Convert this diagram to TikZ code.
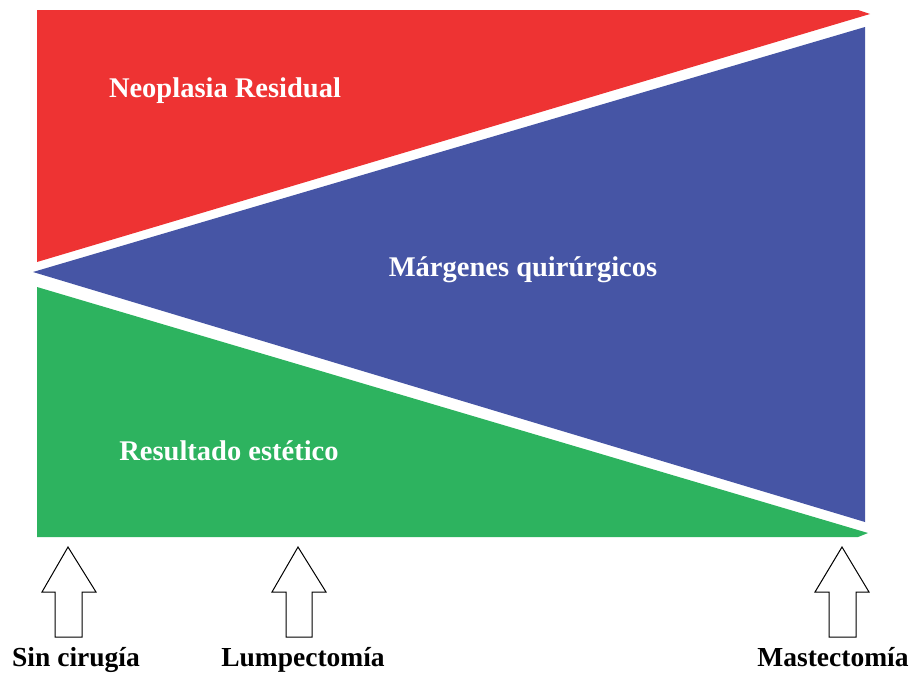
\documentclass[tikz,border=0pt]{standalone}
\usepackage{fontspec}
\setmainfont{Liberation Serif}
\definecolor{rojo}{HTML}{EE3333}
\definecolor{azul}{HTML}{4655A5}
\definecolor{verde}{HTML}{2DB35F}
\tikzset{
  region/.style={draw=none},
  inlabel/.style={text=white,font=\fontsize{28.5}{31}\selectfont\bfseries,inner sep=0pt},
  outlabel/.style={text=black,font=\fontsize{27.5}{30}\selectfont\bfseries,inner sep=0pt},
  blockarrow/.style={draw=black,line width=1pt,fill=white,line join=miter}
}
\begin{document}
\begin{tikzpicture}[x=1pt,y=-1pt]
\useasboundingbox (0,0) rectangle (912,675);
% regions
\fill[rojo] (37,10) -- (858,10) -- (870,14) -- (37,262) -- cycle;
\fill[azul] (33,272) -- (865,27) -- (865,522) -- cycle;
\fill[verde] (37,287) -- (868,533) -- (858,537) -- (37,537) -- cycle;
% labels in regions
\node[inlabel] (neo) at (225,91) {Neoplasia Residual};
\node[inlabel] (mar) at (523,270) {Márgenes quirúrgicos};
\node[inlabel] (res) at (229,451) {Resultado estético};
% block arrows
\draw[blockarrow] (68,547) -- (96,592) -- (82,592) -- (82,637) -- (55,637) -- (55,592) -- (42,592) -- cycle;
\draw[blockarrow] (298,547) -- (326,592) -- (312,592) -- (312,637) -- (286,637) -- (286,592) -- (272,592) -- cycle;
\draw[blockarrow] (842,547) -- (869,592) -- (856,592) -- (856,637) -- (829,637) -- (829,592) -- (815,592) -- cycle;
% labels below
\node[outlabel] (sin) at (76,660) {Sin cirugía};
\node[outlabel] (lum) at (303,660) {Lumpectomía};
\node[outlabel] (mas) at (833,657) {Mastectomía};
\end{tikzpicture}
\end{document}
